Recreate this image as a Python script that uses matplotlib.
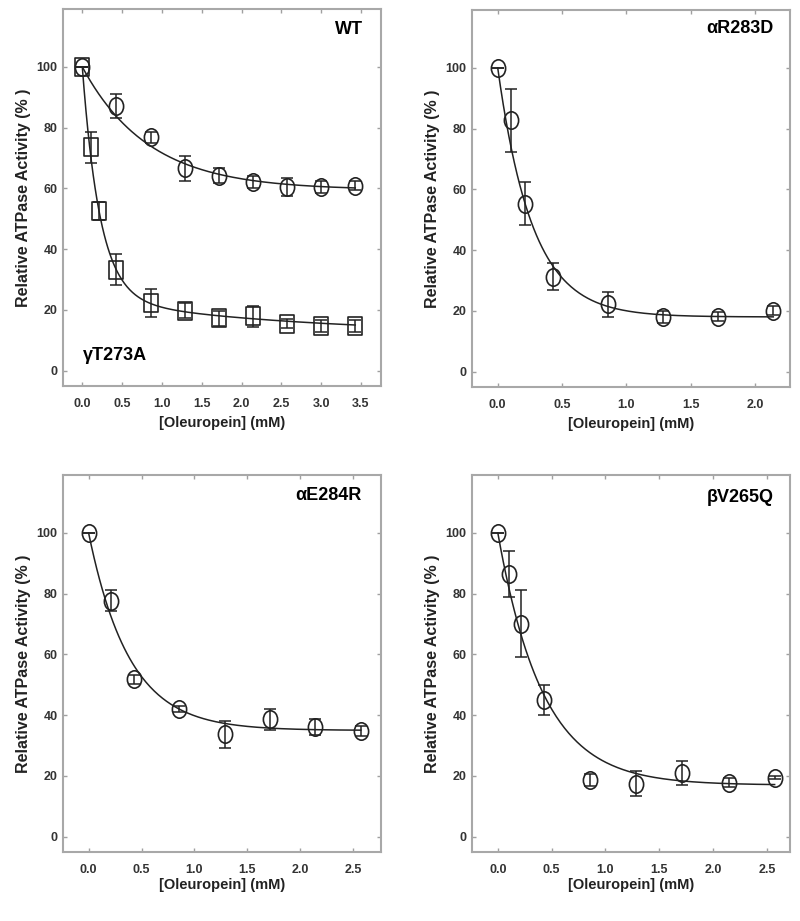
import numpy as np
import matplotlib
matplotlib.use("Agg")
import matplotlib.pyplot as plt
from matplotlib.path import Path
from matplotlib.transforms import Affine2D

plt.rcParams['font.family'] = ['Liberation Sans', 'DejaVu Sans']
plt.rcParams['font.weight'] = 'bold'

# WT / gammaT273A panel
wt_x = [0, 0.429, 0.857, 1.286, 1.714, 2.143, 2.571, 3.0, 3.429]
wt_y = [100, 87.1, 76.8, 66.6, 64.2, 62.2, 60.5, 60.5, 60.9]
wt_err = [0, 4, 1.7, 4, 2.5, 2, 3, 2, 1.5]
wt_fit = (59.5, 40.5, 1.2)  # plateau, span, rate

g_x = [0, 0.107, 0.214, 0.429, 0.857, 1.286, 1.714, 2.143, 2.571, 3.0, 3.429]
g_y = [100, 73.5, 52.6, 33.3, 22.3, 19.8, 17.3, 17.9, 15.4, 14.8, 14.6]
g_err = [0, 5, 3, 5, 4.5, 2.5, 2.5, 3.5, 1.5, 2, 2]
g_fit = (12, 76, 4.5, 12, 0.4)  # plateau, fast span, fast rate, slow span, slow rate

# alphaR283D
r_x = [0, 0.107, 0.214, 0.429, 0.857, 1.286, 1.714, 2.143]
r_y = [100, 82.7, 55.3, 31.3, 22.1, 18.1, 18.1, 20.1]
r_err = [0, 10.5, 7, 4.5, 4, 2, 1.5, 1.5]
r_fit = (18, 82, 3.7)

# alphaE284R
e_x = [0, 0.214, 0.429, 0.857, 1.286, 1.714, 2.143, 2.571]
e_y = [100, 77.7, 51.8, 41.9, 33.7, 38.6, 36.1, 34.8]
e_err = [0, 3.5, 1.5, 1, 4.5, 3.5, 2.5, 1.5]
e_fit = (35, 65, 2.6)

# betaV265Q
b_x = [0, 0.107, 0.214, 0.429, 0.857, 1.286, 1.714, 2.143, 2.571]
b_y = [100, 86.5, 70.1, 45, 18.6, 17.5, 21, 17.8, 19.4]
b_err = [0, 7.5, 11, 5, 2, 4, 4, 1.5, 0.5]
b_fit = (17, 83, 2.4)

yticks = [0, 20, 40, 60, 80, 100]
xlabel = "[Oleuropein] (mM)"
ylabel = "Relative ATPase Activity (% )"

# slightly tall markers, as in the scanned figure
squash = Affine2D().scale(0.82, 1.0)
circ = Path.unit_circle().transformed(squash)
sq = Path.unit_rectangle().transformed(Affine2D().translate(-0.5, -0.5) + squash)

fig = plt.figure(figsize=(8, 9.21), dpi=100)
W = 0.397
H = 0.409
ax1 = fig.add_axes([0.079, 0.581, W, H])
ax2 = fig.add_axes([0.590, 0.580, W, H])
ax3 = fig.add_axes([0.079, 0.075, W, H])
ax4 = fig.add_axes([0.590, 0.075, W, H])


def style(ax, xmin, xmax, xticks, xpad):
    ax.set_ylim(-5, 119)
    ax.set_xlim(xmin, xmax)
    ax.set_yticks(yticks)
    ax.set_xticks(xticks)
    ax.set_xticklabels(["%.1f" % t for t in xticks])
    for s in ax.spines.values():
        s.set_color('#a8a8a8')
        s.set_linewidth(1.5)
    ax.tick_params(direction='in', length=3, width=1, color='#a0a0a0',
                   top=True, right=True, labelsize=9, labelcolor='#333333')
    ax.tick_params(axis='x', pad=9)
    ax.tick_params(axis='y', pad=4)
    ax.set_xlabel(xlabel, fontsize=10.5, fontweight='bold', color='#222222', labelpad=xpad)
    ax.set_ylabel(ylabel, fontsize=11.5, fontweight='bold', color='#222222', labelpad=4)


def points(ax, x, y, err, marker):
    ax.errorbar(x, y, yerr=err, fmt='none', ecolor='#222222', elinewidth=1.1,
                capsize=4, capthick=1.1, zorder=3)
    ax.plot(x, y, linestyle='none', marker=marker, mfc='none', mec='#222222',
            ms=12.5, mew=1.2, zorder=4)


def single_exp(ax, fit, xend):
    xs = np.linspace(0, xend, 200)
    c, a, k = fit
    ax.plot(xs, c + a * np.exp(-k * xs), color='#222222', lw=1.1, zorder=2)


# panel 1
style(ax1, -0.24, 3.75, [0, 0.5, 1.0, 1.5, 2.0, 2.5, 3.0, 3.5], 4)
single_exp(ax1, wt_fit, wt_x[-1])
xs = np.linspace(0, g_x[-1], 300)
c, a1, k1, a2, k2 = g_fit
ax1.plot(xs, c + a1 * np.exp(-k1 * xs) + a2 * np.exp(-k2 * xs), color='#222222', lw=1.1, zorder=2)
points(ax1, wt_x, wt_y, wt_err, circ)
points(ax1, g_x, g_y, g_err, sq)
ax1.text(0.943, 0.945, "WT", transform=ax1.transAxes, ha='right', va='center',
         fontsize=13, fontweight='bold')
ax1.text(0.063, 0.082, "γT273A", transform=ax1.transAxes, ha='left', va='center',
         fontsize=13, fontweight='bold')

# panel 2
style(ax2, -0.2, 2.27, [0, 0.5, 1.0, 1.5, 2.0], 4)
single_exp(ax2, r_fit, r_x[-1])
points(ax2, r_x, r_y, r_err, circ)
ax2.text(0.95, 0.952, "αR283D", transform=ax2.transAxes, ha='right', va='center',
         fontsize=13, fontweight='bold')

# panel 3
style(ax3, -0.24, 2.76, [0, 0.5, 1.0, 1.5, 2.0, 2.5], 1)
single_exp(ax3, e_fit, e_x[-1])
points(ax3, e_x, e_y, e_err, circ)
ax3.text(0.94, 0.945, "αE284R", transform=ax3.transAxes, ha='right', va='center',
         fontsize=13, fontweight='bold')

# panel 4
style(ax4, -0.24, 2.71, [0, 0.5, 1.0, 1.5, 2.0, 2.5], 1)
single_exp(ax4, b_fit, b_x[-1])
points(ax4, b_x, b_y, b_err, circ)
ax4.text(0.95, 0.94, "βV265Q", transform=ax4.transAxes, ha='right', va='center',
         fontsize=13, fontweight='bold')

fig.savefig("out.png", dpi=100)
